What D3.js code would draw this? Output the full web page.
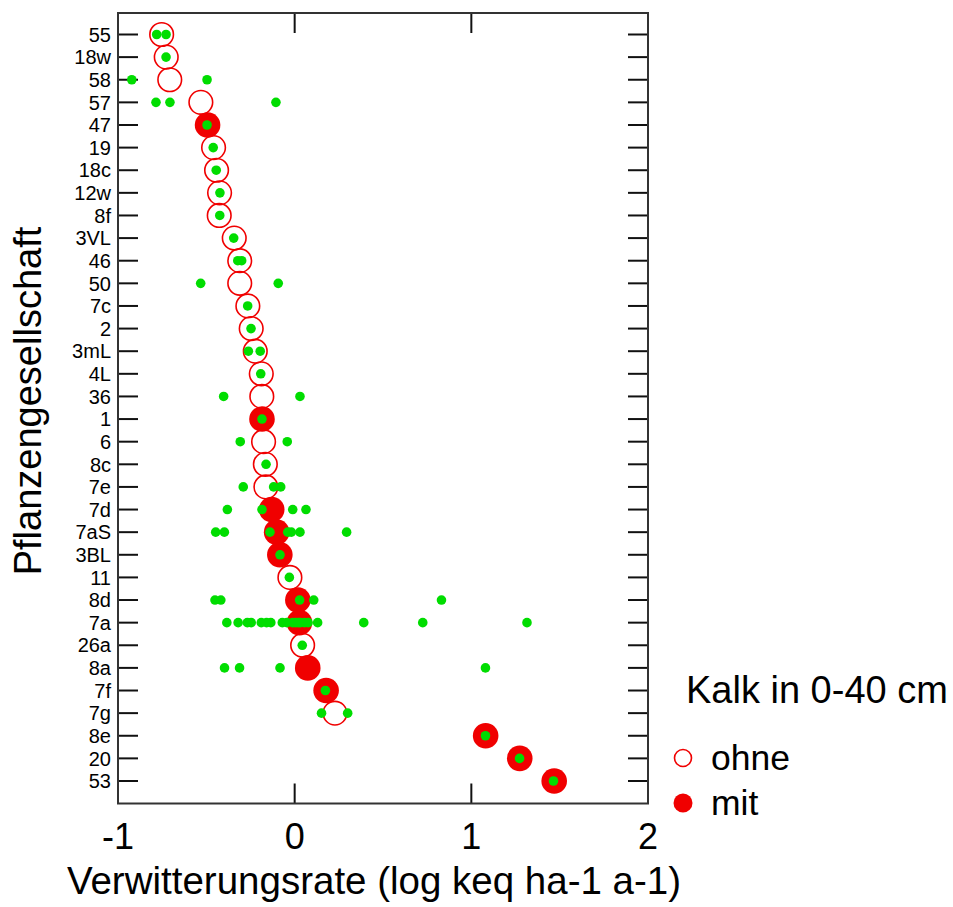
<!DOCTYPE html>
<html>
<head>
<meta charset="utf-8">
<script src="https://cdn.jsdelivr.net/npm/d3@7"></script>
<style>
  body { margin: 0; background: #fff; }
  text { font-family: "Liberation Sans", Arial, sans-serif; }
</style>
</head>
<body>
<div id="chart"></div>
<script>
const RED = "#f00000";
const GREEN = "#00dd00";

// plant communities, top to bottom
const communities = ["55", "18w", "58", "57", "47", "19", "18c", "12w", "8f", "3VL",
    "46", "50", "7c", "2", "3mL", "4L", "36", "1", "6", "8c", "7e", "7d", "7aS",
    "3BL", "11", "8d", "7a", "26a", "8a", "7f", "7g", "8e", "20", "53"];

// median weathering rate (log keq ha-1 a-1) for each community
const medians = [-0.753, -0.727, -0.707, -0.531, -0.493, -0.459, -0.442, -0.425, -0.427, -0.342,
    -0.311, -0.311, -0.265, -0.246, -0.223, -0.189, -0.186, -0.185, -0.176, -0.166, -0.163, -0.130, -0.102,
    -0.084, -0.027, 0.018, 0.027, 0.045, 0.074, 0.178, 0.228, 1.081, 1.274, 1.469];

// lime in 0-40 cm: 0 = ohne, 1 = mit
const lime = [0, 0, 0, 0, 1, 0, 0, 0, 0, 0,
    0, 0, 0, 0, 0, 0, 0, 1, 0, 0, 0, 1, 1,
    1, 0, 1, 1, 0, 1, 1, 0, 1, 1, 1];

// single site values
const sites = [
    [-0.781, -0.728],
    [-0.728],
    [-0.922, -0.496],
    [-0.785, -0.706, -0.106],
    [-0.496],
    [-0.461],
    [-0.444],
    [-0.423],
    [-0.424],
    [-0.345],
    [-0.322, -0.300],
    [-0.532, -0.093],
    [-0.266],
    [-0.247],
    [-0.262, -0.195],
    [-0.192],
    [-0.402, 0.030],
    [-0.185],
    [-0.308, -0.042],
    [-0.162],
    [-0.291, -0.119, -0.079],
    [-0.381, -0.185, -0.011, 0.064],
    [-0.447, -0.398, -0.140, -0.039, -0.019, 0.030, 0.294],
    [-0.083],
    [-0.030],
    [-0.451, -0.418, 0.028, 0.108, 0.831],
    [-0.384, -0.320, -0.268, -0.246, -0.189, -0.159, -0.135, -0.070, -0.044, -0.011,
     0.005, 0.020, 0.032, 0.055, 0.076, 0.130, 0.391, 0.725, 1.315],
    [0.043],
    [-0.397, -0.312, -0.083, 1.080],
    [0.174],
    [0.152, 0.300],
    [1.080],
    [1.273],
    [1.465]
];

const xTicks = [-1, 0, 1, 2];
const legendLabels = ["ohne", "mit"];

const W = 953, H = 907;
const mLeft = 118, mRight = 648, mTop = 13, mBottom = 803.5;
const tickLen = 20;

const svg = d3.select("#chart").append("svg")
    .attr("width", W)
    .attr("height", H);

const x = d3.scaleLinear().domain([-1, 2]).range([mLeft, mRight]);
const y = d3.scalePoint().domain(communities).range([34.5, 781]);

// ticks, all pointing inward
let ticks = svg.append("g")
    .attr("stroke", "#111")
    .attr("stroke-width", 2);

ticks.selectAll(".yl").data(communities).join("line")
    .attr("class", "yl")
    .attr("x1", mLeft).attr("x2", mLeft + tickLen)
    .attr("y1", d => y(d)).attr("y2", d => y(d));
ticks.selectAll(".yr").data(communities).join("line")
    .attr("class", "yr")
    .attr("x1", mRight - tickLen).attr("x2", mRight)
    .attr("y1", d => y(d)).attr("y2", d => y(d));
ticks.selectAll(".xt").data(xTicks).join("line")
    .attr("class", "xt")
    .attr("x1", d => x(d)).attr("x2", d => x(d))
    .attr("y1", mTop).attr("y2", mTop + tickLen);
ticks.selectAll(".xb").data(xTicks).join("line")
    .attr("class", "xb")
    .attr("x1", d => x(d)).attr("x2", d => x(d))
    .attr("y1", mBottom - tickLen).attr("y2", mBottom);

// frame
svg.append("rect")
    .attr("x", mLeft).attr("y", mTop)
    .attr("width", mRight - mLeft).attr("height", mBottom - mTop)
    .attr("fill", "none")
    .attr("stroke", "#333")
    .attr("stroke-width", 2);

// tick labels
svg.append("g").selectAll("text").data(communities).join("text")
    .attr("x", 111)
    .attr("y", d => y(d))
    .attr("dy", "0.36em")
    .attr("text-anchor", "end")
    .style("font-size", "20px")
    .text(d => d);

svg.append("g").selectAll("text").data(xTicks).join("text")
    .attr("x", d => x(d))
    .attr("y", 849)
    .attr("text-anchor", "middle")
    .style("font-size", "36px")
    .text(d => d);

// axis titles
svg.append("text")
    .attr("x", 374)
    .attr("y", 894)
    .attr("text-anchor", "middle")
    .style("font-size", "38.5px")
    .text("Verwitterungsrate (log keq ha-1 a-1)");

svg.append("text")
    .attr("transform", "translate(41,401) rotate(-90)")
    .attr("text-anchor", "middle")
    .style("font-size", "38px")
    .text("Pflanzengesellschaft");

// median circles
let plot = svg.append("g");
plot.selectAll("circle.med").data(communities).join("circle")
    .attr("class", "med")
    .attr("cx", (d, i) => x(medians[i]))
    .attr("cy", d => y(d))
    .attr("r", (d, i) => lime[i] ? 12.8 : 11.8)
    .attr("fill", (d, i) => lime[i] ? RED : "none")
    .attr("stroke", RED)
    .attr("stroke-width", (d, i) => lime[i] ? 0 : 1.6);

// single sites
let pts = [];
sites.forEach((vals, i) => vals.forEach(v => pts.push({ c: communities[i], v: v })));
plot.selectAll("circle.site").data(pts).join("circle")
    .attr("class", "site")
    .attr("cx", d => x(d.v))
    .attr("cy", d => y(d.c))
    .attr("r", 4.8)
    .attr("fill", GREEN);

// legend
let legend = svg.append("g");
legend.append("text")
    .attr("x", 686)
    .attr("y", 703)
    .style("font-size", "38px")
    .text("Kalk in 0-40 cm");

let ly = d3.scalePoint().domain(legendLabels).range([758, 803]);
legend.selectAll("circle").data(legendLabels).join("circle")
    .attr("cx", 683)
    .attr("cy", d => ly(d))
    .attr("r", d => d === "mit" ? 9.5 : 8.5)
    .attr("fill", d => d === "mit" ? RED : "none")
    .attr("stroke", RED)
    .attr("stroke-width", d => d === "mit" ? 0 : 1.6);
legend.selectAll("text.lab").data(legendLabels).join("text")
    .attr("class", "lab")
    .attr("x", 711)
    .attr("y", d => ly(d) + 12)
    .style("font-size", "35.5px")
    .text(d => d);
</script>
</body>
</html>
